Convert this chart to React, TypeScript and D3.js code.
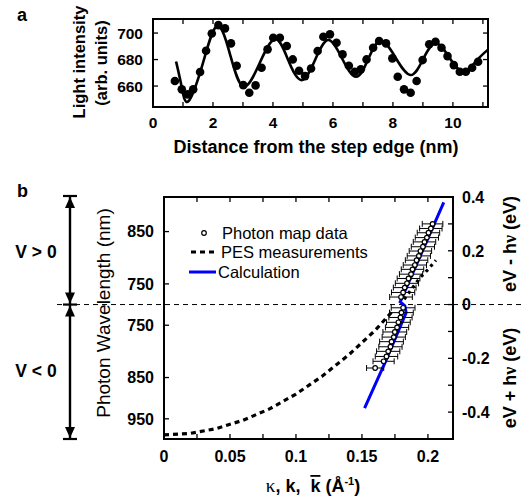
import React from "react";
import * as d3 from "d3";

// ---------- Panel a data ----------
const aDotX = [0.73, 0.96, 1.16, 1.34, 1.57, 1.77, 1.96, 2.18, 2.4, 2.6, 2.79, 3.01, 3.21, 3.42, 3.62, 3.82, 4.01, 4.23, 4.46, 4.66, 4.87, 5.07, 5.27, 5.49, 5.68, 5.9, 6.12, 6.32, 6.53, 6.73, 6.93, 7.12, 7.34, 7.54, 7.77, 7.98, 8.16, 8.37, 8.59, 8.79, 8.99, 9.21, 9.42, 9.62, 9.82, 10.03, 10.23, 10.43, 10.64, 10.84];
const aDotY = [663.8, 657.5, 653.7, 657.5, 670.6, 686.6, 699.7, 706, 703.5, 692.2, 675.3, 660.7, 655, 660.5, 673.8, 687.7, 696.5, 696.5, 690.2, 680.1, 671.5, 667.5, 673.3, 686.4, 697.2, 699, 692.7, 683.9, 675.3, 670.8, 672.6, 680.1, 688.9, 694, 692.2, 680.9, 667, 657.5, 655, 663.8, 679.6, 691.5, 693.4, 688.9, 682.6, 675.8, 670.8, 670.8, 673.8, 678.3];
const aFitX = [0.77, 0.95, 1.18, 1.66, 2.14, 2.58, 3.02, 3.55, 4.07, 4.5, 4.95, 5.4, 5.84, 6.3, 6.77, 7.18, 7.6, 8.1, 8.59, 9.0, 9.42, 9.88, 10.34, 10.78, 11.17];
const aFitY = [678.5, 660, 648.5, 677, 705.3, 683, 659.5, 677, 695.5, 680, 664.5, 679.5, 694.7, 681, 667, 680.5, 694.2, 681, 668.3, 680, 692.3, 681.5, 670.8, 679, 687.5];
const aXTicks = [0, 2, 4, 6, 8, 10];
const aYTicks = [660, 680, 700];

// ---------- Panel b data ----------
const photonK = [0.2035, 0.2022, 0.2004, 0.1992, 0.1974, 0.1962, 0.1943, 0.1931, 0.1914, 0.1901, 0.1883, 0.1872, 0.1853, 0.1841, 0.1824, 0.1812, 0.1796,
  0.1812, 0.1799, 0.1792, 0.1776, 0.1766, 0.1749, 0.1741, 0.1724, 0.1716, 0.1699, 0.1686, 0.1664, 0.1600];
const photonE = [0.300, 0.283, 0.267, 0.249, 0.233, 0.215, 0.199, 0.181, 0.165, 0.147, 0.131, 0.113, 0.097, 0.079, 0.063, 0.045, 0.028,
  -0.012, -0.030, -0.048, -0.066, -0.085, -0.102, -0.121, -0.138, -0.157, -0.174, -0.193, -0.211, -0.236];
const photonErr = [0.0078, 0.0085, 0.0085, 0.0088, 0.0085, 0.0088, 0.0085, 0.0088, 0.0085, 0.0088, 0.0085, 0.0088, 0.0086, 0.0088, 0.0086, 0.0088, 0.0086,
  0.0090, 0.0090, 0.0088, 0.0090, 0.0088, 0.0090, 0.0088, 0.0090, 0.0088, 0.0088, 0.0085, 0.0080, 0.0065];
const pesLowK = [0.0, 0.02, 0.04, 0.06, 0.08, 0.10, 0.12, 0.14, 0.16, 0.174];
const pesLowE = [-0.485, -0.479, -0.461, -0.43, -0.388, -0.333, -0.266, -0.187, -0.096, -0.02];
const pesUpK = [0.182, 0.188, 0.194, 0.200, 0.206];
const pesUpE = [0.02, 0.06, 0.10, 0.13, 0.165];
const calcK = [0.152, 0.168, 0.1835, 0.1825, 0.179, 0.195, 0.212];
const calcE = [-0.385, -0.21, -0.03, -0.005, 0.01, 0.19, 0.38];
const bXTicks = [0, 0.05, 0.1, 0.15, 0.2];
const bXMinor = [0.025, 0.075, 0.125, 0.175];
const bRTicks = [0.4, 0.2, 0, -0.2, -0.4];
const bRMinor = [0.3, 0.1, -0.1, -0.3];
const wlUpper = [850, 750];
const wlLower = [750, 850, 950];
const legendLabels = ["Photon map data", "PES measurements", "Calculation"];

const FONT = "'Liberation Sans', Arial, Helvetica, sans-serif";
const SERIF = "'Liberation Serif', 'Times New Roman', serif";

export default function App() {
  // panel a scales
  const ax = d3.scaleLinear().domain([0, 11.17]).range([153, 488]);
  const ay = d3.scaleLinear().domain([644.2, 710.6]).range([107, 19]);
  const fitLine = d3.line<number>().x((_, i) => ax(aFitX[i])).y((_, i) => ay(aFitY[i])).curve(d3.curveNatural);

  // panel b scales
  const bx = d3.scaleLinear().domain([0, 0.219]).range([164, 453]);
  const by = d3.scaleLinear().domain([-0.5, 0.4]).range([439, 197]);
  const C0 = 1.73;
  const wlToE = (wl: number, s: number) => s * (C0 - 1239.84 / wl);
  const lineB = (ks: number[], es: number[]) =>
    d3.line<number>().x((_, i) => bx(ks[i])).y((_, i) => by(es[i]))(ks) || "";

  const y0 = by(0);
  const arrowX = 70;
  const head = (tipY: number, dir: number) =>
    `M${arrowX},${tipY} L${arrowX - 5},${tipY + dir * 11} L${arrowX + 5},${tipY + dir * 11} Z`;

  return (
    <svg width={529} height={502} style={{ position: "absolute", left: 0, top: 0, background: "#fff" }} fontFamily={FONT}>
      <rect x={0} y={0} width={529} height={502} fill="#fff" />
      {/* ================= Panel a ================= */}
      <text x={17} y={21} fontSize={18} fontWeight="bold">a</text>
      {d3.range(0, 12).map((t) => (
        <g key={"axt" + t}>
          <line x1={ax(t)} x2={ax(t)} y1={107} y2={102} stroke="#000" strokeWidth={1.3} />
          <line x1={ax(t)} x2={ax(t)} y1={19} y2={24} stroke="#000" strokeWidth={1.3} />
        </g>
      ))}
      {aYTicks.map((t) => (
        <g key={"ayt" + t}>
          <line x1={153} x2={158} y1={ay(t)} y2={ay(t)} stroke="#000" strokeWidth={1.3} />
          <line x1={488} x2={483} y1={ay(t)} y2={ay(t)} stroke="#000" strokeWidth={1.3} />
          <text x={143} y={ay(t)} dy="0.36em" textAnchor="end" fontSize={15.5} fontWeight="bold">{t}</text>
        </g>
      ))}
      {aXTicks.map((t) => (
        <text key={"axl" + t} x={ax(t)} y={128} textAnchor="middle" fontSize={15.5} fontWeight="bold">{t}</text>
      ))}
      <path d={fitLine(aFitX) || ""} fill="none" stroke="#000" strokeWidth={2.6} />
      {aDotX.map((x, i) => (
        <circle key={"ad" + i} cx={ax(x)} cy={ay(aDotY[i])} r={4.3} fill="#000" />
      ))}
      <rect x={153} y={19} width={335} height={88} fill="none" stroke="#000" strokeWidth={2} />
      <text x={316} y={153} textAnchor="middle" fontSize={18} fontWeight="bold">Distance from the step edge (nm)</text>
      <text transform="translate(79,62) rotate(-90)" dy="0.35em" textAnchor="middle" fontSize={16.5} fontWeight="bold">Light intensity</text>
      <text transform="translate(101,63) rotate(-90)" dy="0.35em" textAnchor="middle" fontSize={16.5} fontWeight="bold">(arb. units)</text>

      {/* ================= Panel b ================= */}
      <text x={17} y={197} fontSize={18} fontWeight="bold">b</text>
      <line x1={arrowX} x2={arrowX} y1={197} y2={438} stroke="#000" strokeWidth={2.4} />
      {[196, y0, 439].map((yy, i) => (
        <line key={"bar" + i} x1={63} x2={77} y1={yy} y2={yy} stroke="#000" strokeWidth={2.2} />
      ))}
      <path d={head(197, 1)} fill="#000" />
      <path d={head(y0 - 1, -1)} fill="#000" />
      <path d={head(y0 + 1, 1)} fill="#000" />
      <path d={head(438, -1)} fill="#000" />
      <text x={36} y={258} textAnchor="middle" fontSize={17.5} fontWeight="bold">V &gt; 0</text>
      <text x={36} y={377} textAnchor="middle" fontSize={17.5} fontWeight="bold">V &lt; 0</text>

      <line x1={57} x2={521} y1={y0} y2={y0} stroke="#000" strokeWidth={1} strokeDasharray="5,4" />

      {[...bXTicks, ...bXMinor].map((t) => (
        <g key={"bxt" + t}>
          <line x1={bx(t)} x2={bx(t)} y1={439} y2={434} stroke="#000" strokeWidth={1.3} />
          <line x1={bx(t)} x2={bx(t)} y1={197} y2={202} stroke="#000" strokeWidth={1.3} />
        </g>
      ))}
      {bXTicks.map((t) => (
        <text key={"bxl" + t} x={bx(t)} y={462} textAnchor="middle" fontSize={16} fontWeight="bold">{String(t)}</text>
      ))}
      {[...bRTicks, ...bRMinor].map((t) => (
        <line key={"brt" + t} x1={453} x2={448} y1={by(t)} y2={by(t)} stroke="#000" strokeWidth={1.3} />
      ))}
      {bRTicks.map((t) => (
        <text key={"brl" + t} x={462} y={by(t)} dy="0.36em" fontSize={16} fontWeight="bold">{String(t)}</text>
      ))}
      {wlUpper.map((w) => (
        <g key={"wu" + w}>
          <line x1={164} x2={169} y1={by(wlToE(w, 1))} y2={by(wlToE(w, 1))} stroke="#000" strokeWidth={1.3} />
          <text x={154} y={by(wlToE(w, 1))} dy="0.36em" textAnchor="end" fontSize={16} fontWeight="bold">{w}</text>
        </g>
      ))}
      {wlLower.map((w) => (
        <g key={"wl" + w}>
          <line x1={164} x2={169} y1={by(wlToE(w, -1))} y2={by(wlToE(w, -1))} stroke="#000" strokeWidth={1.3} />
          <text x={154} y={by(wlToE(w, -1))} dy="0.36em" textAnchor="end" fontSize={16} fontWeight="bold">{w}</text>
        </g>
      ))}

      <path d={lineB(calcK, calcE)} fill="none" stroke="#0000ff" strokeWidth={3} />
      <path d={lineB(pesLowK, pesLowE)} fill="none" stroke="#000" strokeWidth={3.2} strokeDasharray="5,4" />
      <path d={lineB(pesUpK, pesUpE)} fill="none" stroke="#000" strokeWidth={3.2} strokeDasharray="3,4" />
      {photonK.map((k, i) => {
        const y = by(photonE[i]);
        const x1 = bx(k - photonErr[i]);
        const x2 = bx(k + photonErr[i]);
        return (
          <g key={"pe" + i}>
            <line x1={x1} x2={x2} y1={y} y2={y} stroke="#000" strokeWidth={1} />
            <line x1={x1} x2={x1} y1={y - 3} y2={y + 3} stroke="#000" strokeWidth={1} />
            <line x1={x2} x2={x2} y1={y - 3} y2={y + 3} stroke="#000" strokeWidth={1} />
          </g>
        );
      })}
      {photonK.map((k, i) => (
        <circle key={"pc" + i} cx={bx(k)} cy={by(photonE[i])} r={2.3} fill="#fff" stroke="#000" strokeWidth={1.2} />
      ))}

      <rect x={164} y={197} width={289} height={242} fill="none" stroke="#000" strokeWidth={2} />

      <circle cx={204} cy={233} r={2.3} fill="#fff" stroke="#000" strokeWidth={1.2} />
      <text x={222} y={239} fontSize={16.5}>{legendLabels[0]}</text>
      <line x1={191} x2={214} y1={252} y2={252} stroke="#000" strokeWidth={3.2} strokeDasharray="5,4" />
      <text x={221} y={258} fontSize={16.5}>{legendLabels[1]}</text>
      <line x1={189} x2={216} y1={272} y2={272} stroke="#0000ff" strokeWidth={3} />
      <text x={218} y={278} fontSize={16.5}>{legendLabels[2]}</text>

      <text transform="translate(103,313) rotate(-90)" dy="0.35em" textAnchor="middle" fontSize={19}>Photon Wavelength (nm)</text>
      <text transform="translate(510,244) rotate(-90)" dy="0.35em" textAnchor="middle" fontSize={18} fontWeight="bold">
        eV - h<tspan fontFamily={SERIF}>ν</tspan> (eV)
      </text>
      <text transform="translate(510,378) rotate(-90)" dy="0.35em" textAnchor="middle" fontSize={18} fontWeight="bold">
        eV + h<tspan fontFamily={SERIF}>ν</tspan> (eV)
      </text>
      <text x={313} y={492} textAnchor="middle" fontSize={18} fontWeight="bold" style={{ whiteSpace: "pre" }}>
        <tspan fontFamily={SERIF} fontWeight="normal" fontSize={19}>κ</tspan>{", k,  "}<tspan style={{ textDecoration: "overline" }}>k</tspan>{" (Å"}<tspan dy={-7} fontSize={11}>-1</tspan><tspan dy={7}>)</tspan>
      </text>
    </svg>
  );
}
